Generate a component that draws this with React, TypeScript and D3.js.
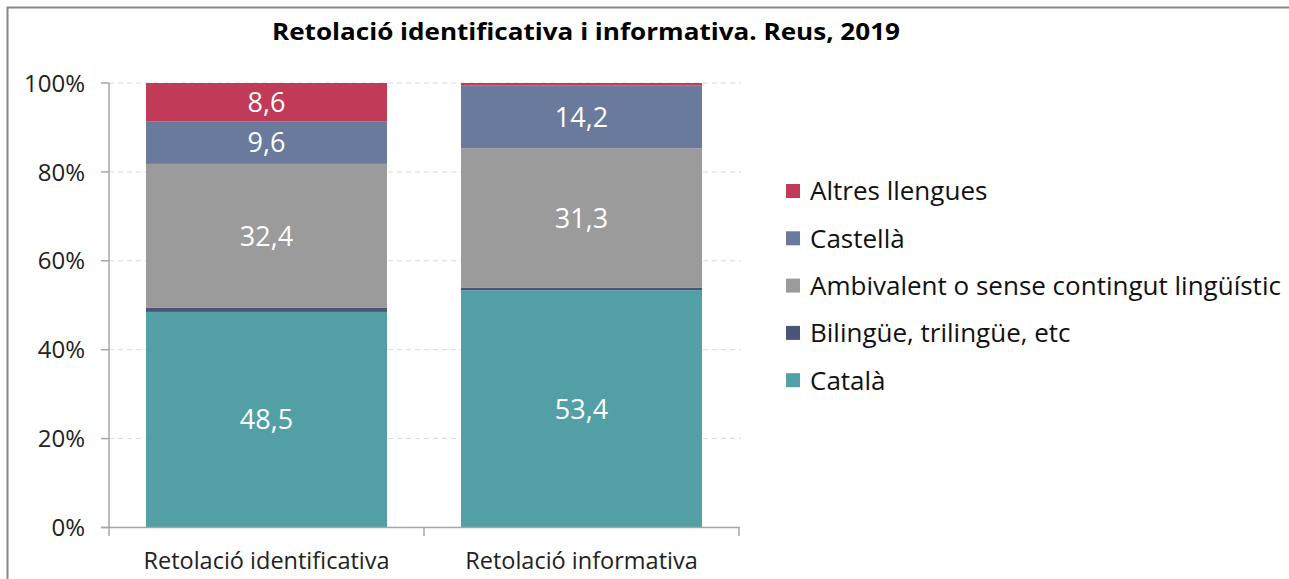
import React from "react";
import * as d3 from "d3";

const categories = ["Retolació identificativa", "Retolació informativa"];
const seriesNames = ["Català", "Bilingüe, trilingüe, etc", "Ambivalent o sense contingut lingüístic", "Castellà", "Altres llengues"];
const catala = [48.5, 53.4];
const bilingue = [0.9, 0.6];
const ambivalent = [32.4, 31.3];
const castella = [9.6, 14.2];
const altres = [8.6, 0.5];
const showLabel = [true, false, true, true, true];
const yTicks = [0, 20, 40, 60, 80, 100];
const colors = ["#529FA6", "#4A5677", "#9B9B9B", "#697A9C", "#C13A57"];

const W = 1289;
const H = 579;
const FONT = "'Open Sans', sans-serif";

export default function App() {
  const seriesValues = [catala, bilingue, ambivalent, castella, altres];
  const table = categories.map((c, i) => {
    const row: any = { cat: c };
    seriesNames.forEach((s, k) => (row[s] = seriesValues[k][i]));
    return row;
  });
  const stack = d3.stack<any>().keys(seriesNames)(table);

  const x = d3.scaleBand().domain(categories).range([109, 739]).paddingInner(0.235).paddingOuter(0.1175);
  const y = d3.scaleLinear().domain([0, 100]).range([527.5, 83]);
  const band = d3.scaleBand().domain(categories).range([109, 739]);

  const fmt = (v: number) => v.toFixed(1).replace(".", ",");

  const legendOrder = [4, 3, 2, 1, 0];

  return (
    <svg width={W} height={H} style={{ position: "absolute", left: 0, top: 0, background: "#fff" }}>
      <rect x={7.5} y={7.5} width={W + 10} height={H + 10} fill="#fff" stroke="#888" strokeWidth={2} />
      <text x={586} y={40} textAnchor="middle" fontFamily={FONT} fontWeight="bold" fontSize={24} fill="#000" textLength={628} lengthAdjust="spacingAndGlyphs">
        Retolació identificativa i informativa. Reus, 2019
      </text>
      {yTicks.filter((t) => t > 0).map((t) => (
        <line key={"g" + t} x1={109} x2={741} y1={y(t)} y2={y(t)} stroke="#d9d9d9" strokeDasharray="5,4" strokeWidth={1} />
      ))}
      {stack.map((s, k) => (
        <g key={s.key}>
          {s.map((d, i) => (
            <rect key={i} x={x(categories[i])} width={x.bandwidth()} y={y(d[1])} height={y(d[0]) - y(d[1])} fill={colors[k]} />
          ))}
        </g>
      ))}
      {stack.map((s, k) =>
        showLabel[k]
          ? s.map((d, i) =>
              d[1] - d[0] > 3 ? (
                <text
                  key={s.key + i}
                  x={(x(categories[i]) as number) + x.bandwidth() / 2}
                  y={(y(d[0]) + y(d[1])) / 2}
                  dy="0.36em"
                  textAnchor="middle"
                  fontFamily={FONT}
                  fontSize={27}
                  fill="#fff"
                >
                  {fmt(d[1] - d[0])}
                </text>
              ) : null
            )
          : null
      )}
      <line x1={109} x2={109} y1={83} y2={527.5} stroke="#a6a6a6" strokeWidth={1.5} />
      {yTicks.map((t) => (
        <g key={"t" + t}>
          <line x1={101} x2={109} y1={y(t)} y2={y(t)} stroke="#a6a6a6" strokeWidth={1.5} />
          <text x={85} y={y(t)} dy="0.36em" textAnchor="end" fontFamily={FONT} fontSize={24} fill="#222">
            {t + "%"}
          </text>
        </g>
      ))}
      <line x1={101} x2={740} y1={527.5} y2={527.5} stroke="#a6a6a6" strokeWidth={1.5} />
      {[...categories.map((c) => band(c) as number), 739].map((v, i) => (
        <line key={"xt" + i} x1={v} x2={v} y1={527.5} y2={536} stroke="#a6a6a6" strokeWidth={1.5} />
      ))}
      {categories.map((c) => (
        <text key={c} x={(band(c) as number) + band.bandwidth() / 2} y={561} dy="0.36em" textAnchor="middle" fontFamily={FONT} fontSize={23.5} fill="#222">
          {c}
        </text>
      ))}
      {legendOrder.map((k, j) => (
        <g key={"l" + k} transform={`translate(786, ${191 + j * 47.3})`}>
          <rect x={0} y={-7} width={14} height={14} fill={colors[k]} />
          <text x={24} y={0} dy="0.36em" fontFamily={FONT} fontSize={26} fill="#111">
            {seriesNames[k]}
          </text>
        </g>
      ))}
    </svg>
  );
}
